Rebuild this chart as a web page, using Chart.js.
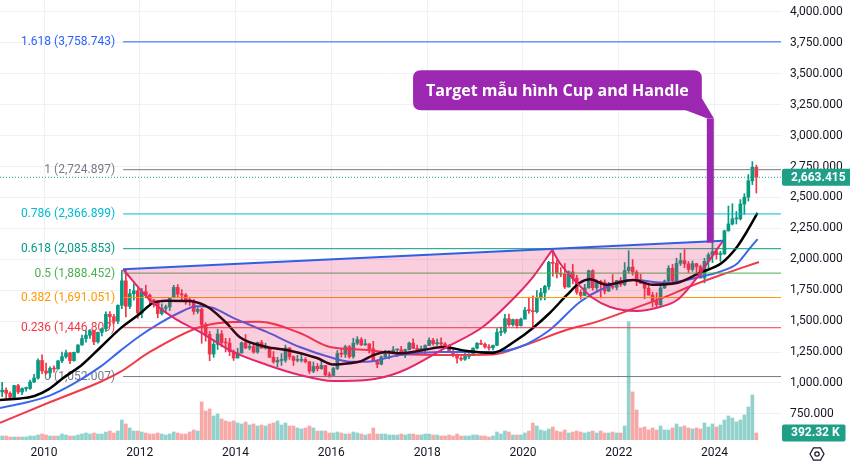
<!DOCTYPE html>
<html><head><meta charset="utf-8">
<script src="https://cdn.jsdelivr.net/npm/chart.js@4.4.1/dist/chart.umd.min.js"></script>
<style>html,body{margin:0;padding:0;background:#fff;}canvas{display:block}</style>
</head><body>
<canvas id="c" width="850" height="464"></canvas>
<script>
// ---------- DATA (monthly candles, Feb 2009 .. Nov 2024) ----------
const firstMonth = {year: 2009, month: 2};
const opens = [
 928,942,916,883,979,927,955,955,1008,1040,1182,
 1097,1081,1118,1113,1179,1213,1244,1181,1248,1307,1359,1386,
 1421,1333,1410,1439,1556,1536,1500,1628,1826,1620,1722,1746,
 1566,1738,1710,1669,1664,1561,1604,1615,1692,1773,1719,1712,
 1675,1663,1579,1596,1472,1393,1234,1313,1396,1327,1323,1253,
 1202,1244,1326,1284,1295,1250,1327,1282,1287,1208,1171,1182,
 1184,1283,1212,1183,1183,1190,1172,1095,1134,1115,1142,1065,
 1061,1117,1238,1233,1293,1214,1322,1351,1309,1316,1277,1173,
 1152,1211,1249,1249,1268,1269,1242,1269,1322,1280,1271,1275,
 1303,1345,1318,1325,1316,1299,1253,1224,1201,1192,1215,1223,
 1282,1321,1313,1292,1284,1305,1409,1414,1520,1472,1513,1464,
 1517,1589,1585,1577,1687,1730,1781,1975,1968,1886,1879,1776,
 1898,1847,1734,1708,1769,1907,1770,1814,1813,1743,1783,1774,
 1829,1796,1909,1937,1897,1837,1807,1766,1711,1660,1633,1768,
 1824,1928,1827,1969,1990,1963,1919,1965,1940,1849,1984,2036,
 2063,2039,2044,2230,2286,2327,2327,2447,2503,2635,2744];
const highs = [
 1005,960,928,982,989,960,967,1023,1071,1195,1227,
 1162,1131,1138,1181,1249,1266,1245,1250,1310,1388,1424,1432,
 1423,1412,1447,1575,1577,1555,1632,1912,1921,1758,1803,1764,
 1764,1791,1720,1676,1667,1640,1630,1692,1790,1796,1755,1723,
 1694,1676,1616,1605,1487,1417,1347,1434,1424,1361,1362,1267,
 1280,1332,1392,1331,1315,1332,1345,1322,1287,1255,1208,1238,
 1307,1287,1220,1224,1232,1205,1174,1170,1157,1191,1142,1088,
 1127,1263,1283,1306,1304,1362,1375,1367,1352,1318,1337,1181,
 1219,1264,1264,1295,1270,1296,1274,1331,1357,1306,1299,1309,
 1366,1362,1356,1365,1326,1309,1266,1235,1214,1243,1237,1284,
 1326,1347,1324,1310,1306,1439,1453,1555,1557,1517,1516,1524,
 1611,1689,1704,1748,1765,1789,1984,2075,1993,1933,1966,1906,
 1959,1871,1755,1798,1913,1916,1832,1831,1834,1814,1877,1831,
 1853,1974,2070,1998,1910,1879,1814,1808,1735,1730,1786,1833,
 1949,1959,2009,2049,2079,1983,1987,1966,1953,2009,2052,2146,
 2088,2065,2236,2431,2450,2387,2483,2531,2685,2790,2762];
const lows = [
 890,865,865,871,913,905,933,948,1003,1030,1075,
 1072,1045,1088,1113,1165,1200,1157,1176,1243,1305,1330,1360,
 1309,1323,1380,1418,1462,1478,1480,1600,1535,1600,1669,1523,
 1527,1688,1627,1613,1527,1548,1564,1585,1688,1693,1672,1636,
 1627,1555,1562,1321,1338,1180,1207,1271,1292,1251,1221,1182,
 1202,1240,1277,1268,1240,1240,1281,1273,1206,1160,1131,1142,
 1167,1191,1142,1170,1169,1162,1077,1084,1098,1112,1052,1046,
 1061,1108,1209,1207,1200,1200,1310,1301,1303,1241,1171,1123,
 1147,1200,1195,1244,1214,1237,1205,1267,1277,1260,1264,1236,
 1303,1306,1303,1301,1282,1245,1211,1160,1180,1182,1196,1221,
 1275,1310,1281,1266,1267,1301,1382,1400,1459,1459,1445,1459,
 1517,1563,1451,1567,1670,1671,1757,1863,1849,1860,1764,1776,
 1802,1717,1677,1705,1766,1750,1750,1688,1721,1740,1759,1753,
 1780,1786,1890,1872,1787,1805,1681,1710,1615,1617,1616,1765,
 1804,1805,1810,1950,1932,1893,1903,1885,1847,1810,1931,1973,
 2002,1984,2039,2228,2277,2286,2318,2364,2471,2604,2536];
const closes = [
 942,916,883,979,927,955,955,1008,1040,1182,1097,
 1081,1118,1113,1179,1213,1244,1181,1248,1307,1359,1386,1421,
 1333,1410,1439,1556,1536,1500,1628,1826,1620,1722,1746,1566,
 1738,1710,1669,1664,1561,1604,1615,1692,1773,1719,1712,1675,
 1663,1579,1596,1472,1393,1234,1313,1396,1327,1323,1253,1202,
 1244,1326,1284,1295,1250,1327,1282,1287,1208,1171,1182,1184,
 1283,1212,1183,1183,1190,1172,1095,1134,1115,1142,1065,1061,
 1117,1238,1233,1293,1214,1322,1351,1309,1316,1277,1173,1152,
 1211,1249,1249,1268,1269,1242,1269,1322,1280,1271,1275,1303,
 1345,1318,1325,1316,1299,1253,1224,1201,1192,1215,1223,1282,
 1321,1313,1292,1284,1305,1409,1414,1520,1472,1513,1464,1517,
 1589,1585,1577,1687,1730,1781,1975,1968,1886,1879,1776,1898,
 1847,1734,1708,1769,1907,1770,1814,1813,1743,1783,1774,1829,
 1796,1909,1937,1897,1837,1807,1766,1711,1660,1633,1768,1824,
 1928,1827,1969,1990,1963,1919,1965,1940,1849,1984,2036,2063,
 2039,2044,2230,2286,2327,2327,2447,2503,2635,2744,2663];
// volume in thousands
const volumesK = [
 224,224,168,168,168,168,168,224,224,280,336,
 280,224,224,224,336,280,224,224,280,336,392,336,
 392,336,336,448,504,392,504,1120,896,672,504,504,
 448,392,336,336,392,336,280,336,448,392,336,336,
 448,560,504,2128,1624,1736,1344,1456,1176,1064,1008,1064,
 952,896,1008,840,896,784,840,784,896,952,1064,840,
 952,784,784,672,616,672,784,672,504,504,504,392,
 392,448,392,336,336,448,392,336,280,336,672,336,
 336,336,280,280,280,336,280,336,336,280,280,336,
 336,280,280,224,224,280,224,336,224,224,224,280,
 280,224,224,168,224,448,336,504,448,280,280,280,
 392,504,952,784,560,504,616,728,504,448,560,392,
 448,504,448,392,448,504,392,504,392,392,448,392,
 392,784,6608,2688,1680,672,728,560,672,560,784,560,
 560,672,896,728,784,672,616,672,616,952,728,896,
 728,840,1120,1344,1232,1008,1120,1400,1848,2520,392.32];

// moving averages: [year, value]
const maBlack = [[2009.08,862],[2009.5,875],[2009.8,895],[2010.1,950],[2010.4,1040],[2010.8,1150],[2011.17,1285],[2011.59,1440],[2012.0,1560],[2012.27,1645],[2012.56,1665],[2013.04,1663],[2013.25,1645],[2013.46,1605],[2013.81,1485],[2014.09,1370],[2014.65,1291],[2015.07,1267],[2015.7,1202],[2016.03,1150],[2016.38,1160],[2016.61,1175],[2016.88,1225],[2017.15,1250],[2017.43,1240],[2017.9,1265],[2018.33,1291],[2018.83,1259],[2019.37,1243],[2019.87,1348],[2020.21,1445],[2020.56,1566],[2020.92,1712],[2021.19,1810],[2021.4,1838],[2021.75,1795],[2022.3,1833],[2022.71,1795],[2023.21,1809],[2023.69,1890],[2024.15,1970],[2024.47,2100],[2024.66,2213],[2024.9,2375]];
const maBlue = [[2009.08,798],[2009.6,840],[2010.13,900],[2010.6,990],[2011.17,1130],[2011.59,1260],[2012.0,1380],[2012.4,1480],[2012.78,1560],[2013.2,1620],[2013.5,1610],[2013.95,1526],[2014.65,1413],[2015.34,1291],[2016.03,1202],[2016.4,1172],[2016.74,1172],[2017.43,1227],[2018.3,1250],[2019.37,1251],[2019.93,1291],[2020.56,1429],[2021.19,1655],[2021.61,1752],[2022.3,1833],[2023.0,1809],[2023.69,1857],[2024.15,1905],[2024.47,1965],[2024.66,2051],[2024.9,2164]];
const maRed = [[2009.08,677],[2010.13,846],[2011.17,1008],[2011.59,1089],[2012.21,1251],[2013.26,1453],[2013.95,1493],[2014.5,1495],[2015.34,1404],[2015.97,1291],[2016.74,1267],[2017.43,1235],[2018.48,1227],[2019.37,1230],[2020.0,1300],[2020.92,1430],[2021.5,1490],[2022.3,1600],[2023.0,1700],[2023.55,1790],[2024.26,1890],[2024.93,1978]];

// Fibonacci retracement levels
const fibRatios = [1.618, 1, 0.786, 0.618, 0.5, 0.382, 0.236, 0];
const fibValues = [3758.743, 2724.897, 2366.899, 2085.853, 1888.452, 1691.051, 1446.809, 1052.007];
const fibStartYear = 2011.65;

// Cup and handle drawing
const cupRim = [[2011.65,1920],[2024.18,2150]];
const cupArc = [[2011.65,1920],[2012.21,1671],[2012.78,1510],[2013.26,1412],[2013.95,1251],[2014.66,1146],[2015.34,1065],[2016.03,1016],[2016.74,1024],[2017.43,1089],[2018.41,1291],[2019.16,1453],[2019.73,1655],[2020.21,1857],[2020.61,2075]];
const handleArc = [[2020.61,2075],[2020.77,1970],[2021.13,1809],[2021.46,1687],[2021.82,1615],[2022.38,1582],[2022.86,1615],[2023.22,1671],[2023.55,1809],[2023.9,1995],[2024.18,2150]];
const target = {year: 2023.914, top: 3140, bottom: 2135, text: 'Target mẫu hình Cup and Handle'};

const lastPrice = 2663.415;
const lastVolumeK = 392.32;
const xTickYears = [2010, 2012, 2014, 2016, 2018, 2020, 2022, 2024];
const priceTicks = [750,1000,1250,1500,1750,2000,2250,2500,2750,3000,3250,3500,3750,4000];

// ---------- STYLE ----------
const X_MIN = 2009.08, X_MAX = 2025.39, Y_MIN = 539, Y_MAX = 4097, VOL_MAX = 24600;
const UP = '#089981', DOWN = '#f23645', GRID = '#eef0f4', TXT = '#131722';
const FONT = 'Roboto, "Liberation Sans", Arial, sans-serif';
const fibColors = ['#2962ff','#787b86','#00bcd4','#089981','#4caf50','#ff9800','#f23645','#787b86'];
const PINK = 'rgba(233,30,99,0.22)', ARC = '#e2286a', RIM = '#2f5fe6', PURPLE = '#9c27b0', BADGE = '#1f9f88';
Chart.defaults.font.family = FONT;

const monthPos = i => { const m = firstMonth.month - 1 + i; return firstMonth.year + Math.floor(m / 12) + ((m % 12) + 0.5) / 12; };
const isUp = i => closes[i] >= opens[i];
const pts = arr => arr.map(p => ({x: p[0], y: p[1]}));
const fmt3 = v => Number(v).toLocaleString('en-US', {minimumFractionDigits: 3, maximumFractionDigits: 3});

const datasets = [];
datasets.push({type: 'bar', data: volumesK.map((v, i) => ({x: monthPos(i), y: v})), yAxisID: 'yv', barThickness: 3, grouped: false,
  backgroundColor: volumesK.map((v, i) => isUp(i) ? 'rgba(38,166,154,0.5)' : 'rgba(239,83,80,0.5)'), order: 100});
datasets.push({type: 'bar', data: closes.map((c, i) => ({x: monthPos(i), y: [lows[i], highs[i]]})), yAxisID: 'y', barThickness: 1, grouped: false,
  backgroundColor: closes.map((c, i) => isUp(i) ? UP : DOWN), order: 90});
datasets.push({type: 'bar', data: closes.map((c, i) => ({x: monthPos(i), y: [opens[i], c]})), yAxisID: 'y', barThickness: 3, grouped: false, minBarLength: 1,
  backgroundColor: closes.map((c, i) => isUp(i) ? UP : DOWN), order: 89});
const lineDs = (data, color, width, order, extra) => Object.assign({type: 'line', data, yAxisID: 'y', borderColor: color, borderWidth: width,
  pointRadius: 0, fill: false, cubicInterpolationMode: 'monotone', order}, extra || {});
datasets.push(lineDs(pts(maRed), '#f03a4a', 2, 82));
datasets.push(lineDs(pts(maBlue), '#3a66ec', 2, 81));
datasets.push(lineDs(pts(maBlack), '#000000', 2.5, 80));
fibValues.forEach((v, i) => datasets.push(lineDs([{x: fibStartYear, y: v}, {x: X_MAX, y: v}], fibColors[i], 1, 70)));
datasets.push(lineDs([{x: X_MIN, y: lastPrice}, {x: X_MAX, y: lastPrice}], BADGE, 1, 69, {borderDash: [1, 2]}));
const rimIndex = datasets.length;
datasets.push(lineDs(pts(cupRim), RIM, 2, 1));
datasets.push(lineDs(pts(cupArc), ARC, 2, 3, {fill: {target: rimIndex, above: PINK, below: PINK}}));
datasets.push(lineDs(pts(handleArc), ARC, 2, 2, {fill: {target: rimIndex, above: PINK, below: PINK}}));

function roundRect(ctx, x, y, w, h, r) {
  ctx.beginPath();
  ctx.moveTo(x + r, y); ctx.lineTo(x + w - r, y); ctx.quadraticCurveTo(x + w, y, x + w, y + r);
  ctx.lineTo(x + w, y + h - r); ctx.quadraticCurveTo(x + w, y + h, x + w - r, y + h);
  ctx.lineTo(x + r, y + h); ctx.quadraticCurveTo(x, y + h, x, y + h - r);
  ctx.lineTo(x, y + r); ctx.quadraticCurveTo(x, y, x + r, y); ctx.closePath();
}
function badge(ctx, text, yc, left) {
  ctx.font = 'bold 12px ' + FONT;
  const w = ctx.measureText(text).width + 15;
  ctx.fillStyle = BADGE; roundRect(ctx, left, yc - 8.5, w, 17, 2); ctx.fill();
  ctx.fillStyle = '#fff'; ctx.textAlign = 'left'; ctx.textBaseline = 'middle';
  ctx.fillText(text, left + 9, yc + 0.5);
}

const annot = {
  id: 'annot',
  beforeDatasetsDraw(chart) {
    const {ctx, scales: {x, y}} = chart;
    ctx.save();
    ctx.font = '12px ' + FONT; ctx.textAlign = 'right'; ctx.textBaseline = 'middle';
    const lx = x.getPixelForValue(fibStartYear) - 8;
    fibRatios.forEach((r, i) => {
      ctx.fillStyle = fibColors[i];
      ctx.fillText(r + ' (' + fmt3(fibValues[i]) + ')', lx, y.getPixelForValue(fibValues[i]) + 0.5);
    });
    ctx.restore();
  },
  afterDatasetsDraw(chart) {
    const {ctx, scales: {x, y}} = chart;
    ctx.save();
    const ax = x.getPixelForValue(target.year);
    const yTop = y.getPixelForValue(target.top), yBot = y.getPixelForValue(target.bottom);
    ctx.fillStyle = PURPLE;
    ctx.fillRect(ax - 3.5, yTop, 7, yBot - yTop);
    ctx.font = 'bold 16px "Open Sans", ' + FONT;
    const tw = ctx.measureText(target.text).width;
    const right = ax - 8.5, bottom = yTop - 8, h = 40;
    const left = right - tw - 26, top = bottom - h;
    roundRect(ctx, left, top, right - left, h, 8); ctx.fill();
    ctx.beginPath();
    ctx.moveTo(right - 16, bottom); ctx.lineTo(right, bottom - 12);
    ctx.lineTo(ax + 3.5, yTop); ctx.lineTo(ax - 3.5, yTop); ctx.closePath(); ctx.fill();
    ctx.fillStyle = '#fff'; ctx.textAlign = 'center'; ctx.textBaseline = 'middle';
    ctx.fillText(target.text, (left + right) / 2, (top + bottom) / 2 + 1);
    ctx.restore();
  },
  afterDraw(chart) {
    const {ctx, chartArea, scales: {y, yv}} = chart;
    ctx.save();
    badge(ctx, fmt3(lastPrice), y.getPixelForValue(lastPrice), chartArea.right + 1);
    badge(ctx, lastVolumeK.toFixed(2) + ' K', yv.getPixelForValue(lastVolumeK), chartArea.right + 1);
    // settings icon
    const cx = 817, cy = 454, r = 7;
    ctx.strokeStyle = TXT; ctx.lineWidth = 1.2; ctx.beginPath();
    for (let k = 0; k < 6; k++) { const a = Math.PI / 3 * k; const px = cx + r * Math.cos(a), py = cy + r * Math.sin(a); k ? ctx.lineTo(px, py) : ctx.moveTo(px, py); }
    ctx.closePath(); ctx.stroke();
    ctx.beginPath(); ctx.arc(cx, cy, 2.2, 0, Math.PI * 2); ctx.stroke();
    ctx.restore();
  }
};

new Chart(document.getElementById('c'), {
  type: 'bar',
  data: {datasets},
  options: {
    responsive: false, animation: false, devicePixelRatio: 1,
    layout: {padding: 0},
    plugins: {legend: {display: false}, tooltip: {enabled: false}, filler: {drawTime: 'beforeDatasetDraw'}},
    scales: {
      x: {type: 'linear', min: X_MIN, max: X_MAX, offset: false, position: 'bottom',
        grid: {color: GRID, drawTicks: false, offset: false}, border: {display: false},
        ticks: {color: TXT, font: {size: 12}, padding: 6, maxRotation: 0, autoSkip: false, callback: v => String(v)},
        afterBuildTicks: s => { s.ticks = xTickYears.map(v => ({value: v})); },
        afterFit: s => { s.height = 24; s.paddingLeft = 0; s.paddingRight = 0; }},
      y: {type: 'linear', position: 'right', min: Y_MIN, max: Y_MAX,
        grid: {color: GRID, drawTicks: false}, border: {display: false},
        ticks: {color: TXT, font: {size: 12}, padding: 9, autoSkip: false, callback: v => fmt3(v)},
        afterBuildTicks: s => { s.ticks = priceTicks.map(v => ({value: v})); },
        afterFit: s => { s.width = 69; s.paddingTop = 0; s.paddingBottom = 0; }},
      yv: {type: 'linear', display: false, min: 0, max: VOL_MAX}
    }
  },
  plugins: [annot]
});
</script>
</body></html>
